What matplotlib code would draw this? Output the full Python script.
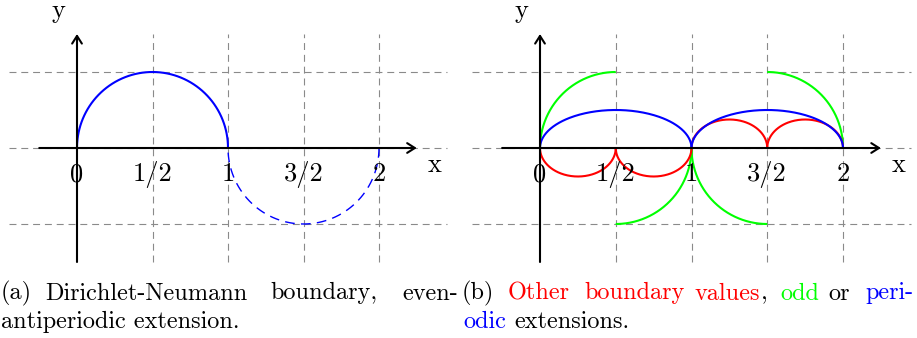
import numpy as np
import matplotlib.pyplot as plt

plt.rcParams["font.family"] = "cmr10"
plt.rcParams["lines.scale_dashes"] = False

W, H = 917, 338

# x tick positions / labels shared by both panels
tick_x = [0, 0.5, 1, 1.5, 2]
tick_labels = ["0", "1/2", "1", "3/2", "2"]
grid_x = [0.5, 1, 1.5, 2]
grid_y = [-1, 0, 1]

# elliptic arcs: (center, half-width, height, x_from, x_to)
dn_arcs = [(0.5, 0.5, 1.0, 0.0, 1.0)]
dn_ext_arcs = [(1.5, 0.5, -1.0, 1.0, 2.0)]
other_arcs = [
    (0.25, 0.25, -0.375, 0.0, 0.5),
    (0.75, 0.25, -0.375, 0.5, 1.0),
    (1.25, 0.25, 0.375, 1.0, 1.5),
    (1.75, 0.25, 0.375, 1.5, 2.0),
]
odd_arcs = [
    (0.5, 0.5, 1.0, 0.0, 0.5),
    (0.5, 0.5, -1.0, 0.5, 1.0),
    (1.5, 0.5, -1.0, 1.0, 1.5),
    (1.5, 0.5, 1.0, 1.5, 2.0),
]
periodic_arcs = [(0.5, 0.5, 0.5, 0.0, 1.0), (1.5, 0.5, 0.5, 1.0, 2.0)]

RED, GREEN, BLUE = "#ff0000", "#00ff00", "#0000ff"
TICK_FS = 19


def arc_xy(cx, hw, amp, x0, x1, n=200):
    t0 = np.arccos(np.clip((x1 - cx) / hw, -1, 1))
    t1 = np.arccos(np.clip((x0 - cx) / hw, -1, 1))
    t = np.linspace(t0, t1, n)
    return cx + hw * np.cos(t), amp * np.sin(t)


def draw_arcs(ax, arcs, **kw):
    for cx, hw, amp, x0, x1 in arcs:
        x, y = arc_xy(cx, hw, amp, x0, x1)
        ax.plot(x, y, solid_capstyle="butt", **kw)


def make_panel(fig, px_left, px_right, ox, ux, oy=148, uy=76, top=0, bottom=270):
    ax = fig.add_axes([px_left / W, (H - bottom) / H,
                       (px_right - px_left) / W, (bottom - top) / H])
    ax.set_xlim((px_left - ox) / ux, (px_right - ox) / ux)
    ax.set_ylim((oy - bottom) / uy, (oy - top) / uy)
    ax.axis("off")

    gkw = dict(color="#8a8a8a", lw=0.8, dashes=(5, 3.5), zorder=1)
    for gy in grid_y:
        ax.plot([-0.45, 2.45], [gy, gy], **gkw)
    for gx in grid_x:
        ax.plot([gx, gx], [-1.5, 1.5], **gkw)

    akw = dict(arrowstyle="->,head_length=0.55,head_width=0.35", lw=1.5,
               color="black", shrinkA=0, shrinkB=0, mutation_scale=10)
    ax.annotate("", xy=(2.25, 0), xytext=(-0.25, 0), arrowprops=akw, zorder=4)
    ax.annotate("", xy=(0, 1.5), xytext=(0, -1.5), arrowprops=akw, zorder=4)

    for tx, lab in zip(tick_x, tick_labels):
        ax.text(tx, -0.44, lab, ha="center", va="baseline", fontsize=TICK_FS, zorder=5)
    ax.text(2.37, -0.32, "x", ha="center", va="baseline", fontsize=TICK_FS)
    ax.text(-0.125, 1.71, "y", ha="center", va="baseline", fontsize=TICK_FS)
    return ax


fig = plt.figure(figsize=(W / 100, H / 100), dpi=100)

# (a) Dirichlet-Neumann with its even-antiperiodic extension
ax1 = make_panel(fig, 0, 460, 77, 151)
draw_arcs(ax1, dn_arcs, color=BLUE, lw=1.5, zorder=3)
draw_arcs(ax1, dn_ext_arcs, color=BLUE, lw=1.0, dashes=(7, 4.5), zorder=3)

# (b) other boundary values, odd and periodic extensions
ax2 = make_panel(fig, 460, 917, 540, 151.5)
draw_arcs(ax2, odd_arcs, color=GREEN, lw=1.5, zorder=2)
draw_arcs(ax2, other_arcs, color=RED, lw=1.5, zorder=3)
draw_arcs(ax2, periodic_arcs, color=BLUE, lw=1.5, zorder=3)

# ---- captions ----
renderer = fig.canvas.get_renderer()


def text_width(s, fs):
    t = fig.text(0, 0, s, fontsize=fs)
    w = t.get_window_extent(renderer).width
    t.remove()
    return w


# caption size chosen so a full second line spans its column
CAP_FS = 16 * 240 / text_width("antiperiodic extension.", 16)


def put(px, baseline, s, col="black", ha="left"):
    fig.text(px / W, 1 - baseline / H, s, ha=ha, va="baseline",
             fontsize=CAP_FS, color=col)


L1, L2 = 299.5, 328

put(1, L1, "(a)")
put(45, L1, "Dirichlet-Neumann")
put(270, L1, "boundary,")
put(458, L1, "even-", ha="right")
put(1, L2, "antiperiodic extension.")

put(462, L1, "(b)")
put(508, L1, "Other", RED)
put(584, L1, "boundary", RED)
put(695, L1, "values", RED)
put(695 + text_width("values", CAP_FS), L1, ",")
put(780, L1, "odd", GREEN)
put(828, L1, "or")
put(914, L1, "peri-", BLUE, ha="right")
put(463, L2, "odic", BLUE)
x_ext = 463 + text_width("odic extensions.", CAP_FS) - text_width("extensions.", CAP_FS)
put(x_ext, L2, "extensions.")

fig.savefig("out.png", dpi=100)
